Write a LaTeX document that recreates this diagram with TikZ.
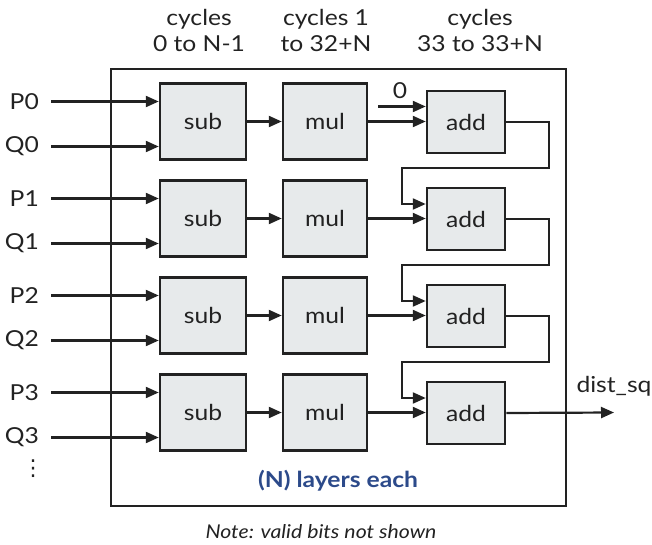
\documentclass[tikz,border=0pt]{standalone}
\usepackage{fontspec}
\setmainfont{Lato}[FakeStretch=1.12]
\newfontfamily\symfont{DejaVu Sans}
\usetikzlibrary{arrows.meta}
\definecolor{boxfill}{HTML}{E7EAEB}
\definecolor{linecol}{HTML}{222222}
\definecolor{noteblue}{HTML}{2C4A8A}
\begin{document}
\begin{tikzpicture}[x=1pt,y=-1pt,
  every node/.style={font=\fontsize{22}{26}\selectfont, text=linecol},
  unit/.style={draw=linecol, line width=2.5pt, fill=boxfill, inner sep=0pt},
  subbox/.style={unit, minimum width=86pt, minimum height=76pt},
  mulbox/.style={unit, minimum width=84pt, minimum height=76pt},
  addbox/.style={unit, minimum width=78pt, minimum height=62pt},
  arr/.style={draw=linecol, line width=2.2pt, -{Triangle[length=13pt,width=11pt]}},
  inlabel/.style={anchor=east, inner sep=0pt},
]
\useasboundingbox (0,0) rectangle (652,545);

% stage headings
\node[align=center] (h1) at (199,30) {cycles\\0 to N-1};
\node[align=center] (h2) at (326,30) {cycles 1\\to 32+N};
\node[align=center] (h3) at (480,30) {cycles\\33 to 33+N};

% enclosing block
\draw[draw=linecol, line width=2.5pt] (111,69) rectangle (566,506);

% four lanes of sub -> mul -> add
\foreach \i/\y in {0/121.5, 1/218.5, 2/315.5, 3/412.5}{
  \node[subbox] (sub\i) at (203,\y) {sub};
  \node[mulbox] (mul\i) at (325,\y) {mul};
  \node[addbox] (add\i) at (466,\y+0.5) {add};
  \node[inlabel] (P\i) at (39,\y-20) {P\i};
  \node[inlabel] (Q\i) at (39,\y+25) {Q\i};
  \draw[arr] (P\i.east) ++(12,0) -- ([yshift=20pt]sub\i.west);
  \draw[arr] (Q\i.east) ++(12,0) -- ([yshift=-25pt]sub\i.west);
  \draw[arr] (sub\i.east) -- (mul\i.west);
  \draw[arr] (mul\i.east) -- (mul\i.east -| add\i.west);
}
\node[font=\symfont\fontsize{22}{26}\selectfont] (dots) at (33,469) {⋮};

% running sum: zero seed and carries between lanes
\node[inner sep=0pt] (zero) at (400,91) {0};
\coordinate (zin) at (378,106.5);
\draw[arr] (zin) -- (zin -| add0.west);
\foreach \i/\j in {0/1, 1/2, 2/3}{
  \draw[arr] (add\i.east) -- ++(43,0) |- ([xshift=-64pt,yshift=-14pt]add\i.south) |- ([yshift=15pt]add\j.west);
}

% result
\coordinate (out) at (614,412.5);
\draw[arr] (add3.east) -- (out);
\node (dsq) at (614,386) {dist\_sq};

\node[font=\fontsize{22}{26}\selectfont\bfseries, text=noteblue] (layers) at (338,481) {(N) layers each};
\node[font=\fontsize{19}{22}\selectfont\itshape] (note) at (321,532) {Note: valid bits not shown};
\end{tikzpicture}
\end{document}
